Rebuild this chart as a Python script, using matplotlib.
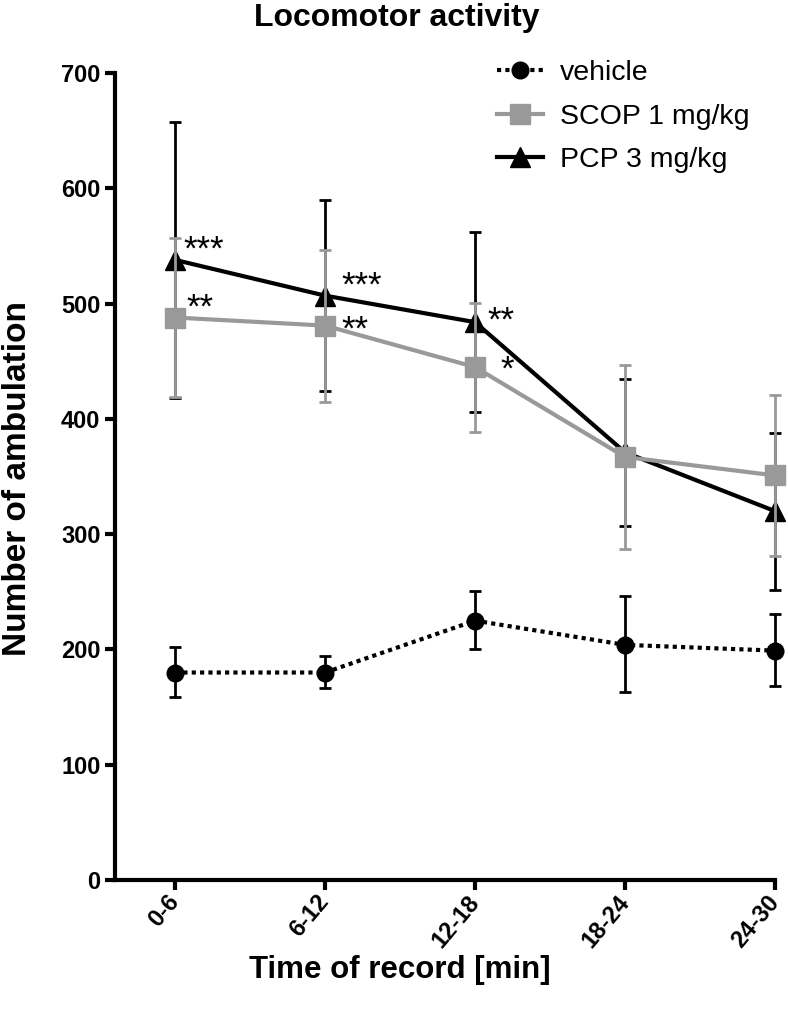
import matplotlib
matplotlib.use('Agg')
import matplotlib.pyplot as plt

plt.rcParams['font.family'] = ['Liberation Sans', 'DejaVu Sans']

times = ['0-6', '6-12', '12-18', '18-24', '24-30']
vehicle = [180, 180, 225, 204, 199]
vehicle_err_hi = [202, 194, 251, 246, 231]
vehicle_err_lo = [159, 167, 200, 163, 168]
scop = [488, 481, 445, 367, 351]
scop_sem = [69, 66, 56, 80, 70]
pcp = [538, 507, 484, 371, 320]
pcp_sem = [120, 83, 78, 64, 68]
star_idx = [0, 0, 1, 1, 2, 2]
star_txt = ['***', '**', '***', '**', '**', '*']
star_grp = ['pcp', 'scop', 'pcp', 'scop', 'pcp', 'scop']
# offsets of the asterisks from their marker (points)
star_off = [(6, 0), (8, 0), (12, 0), (12, -10), (9, -6), (18, -9)]

grey = '#999999'
x = list(range(len(times)))

fig = plt.figure(figsize=(7.88, 10.11), dpi=100)
ax = fig.add_axes([0.146, 0.1296, 0.8376, 0.798])

v_lo = [v - l for v, l in zip(vehicle, vehicle_err_lo)]
v_hi = [h - v for v, h in zip(vehicle, vehicle_err_hi)]
ev = ax.errorbar(x, vehicle, yerr=[v_lo, v_hi], color='black',
                 linestyle=(0, (1, 1.0)), linewidth=3, marker='o', markersize=12,
                 capsize=4, capthick=2, elinewidth=2, label='vehicle',
                 clip_on=False, zorder=3)
ep = ax.errorbar(x, pcp, yerr=pcp_sem, color='black', linestyle='-', linewidth=3,
                 marker='^', markersize=14, capsize=4, capthick=2, elinewidth=2,
                 label='PCP 3 mg/kg', clip_on=False, zorder=4)
es = ax.errorbar(x, scop, yerr=scop_sem, color=grey, linestyle='-', linewidth=3,
                 marker='s', markersize=14, capsize=4, capthick=2, elinewidth=2,
                 label='SCOP 1 mg/kg', clip_on=False, zorder=5)
for c in ev.lines[1] + ep.lines[1] + es.lines[1]:
    c.set_clip_on(False)
for c in ev.lines[2] + ep.lines[2] + es.lines[2]:
    c.set_clip_on(False)

for i, s, grp, off in zip(star_idx, star_txt, star_grp, star_off):
    yv = pcp[i] if grp == 'pcp' else scop[i]
    ax.annotate(s, (i, yv), xytext=off, textcoords='offset points',
                fontsize=25, ha='left', va='baseline')

ax.set_xlim(-0.4, 4)
ax.set_ylim(0, 700)
ax.set_yticks(range(0, 701, 100))
ax.set_xticks(x)
ax.set_xticklabels(times, rotation=50, ha='right', va='center',
                   rotation_mode='anchor', fontweight='bold', fontsize=17)
for lab in ax.get_yticklabels():
    lab.set_fontweight('bold')
    lab.set_fontsize(17)
ax.spines['top'].set_visible(False)
ax.spines['right'].set_visible(False)
ax.spines['left'].set_linewidth(3)
ax.spines['bottom'].set_linewidth(3)
ax.tick_params(width=3, length=7)
ax.tick_params(axis='x', pad=6)

ax.set_ylabel('Number of ambulation', fontsize=24, fontweight='bold', va='center')
ax.yaxis.set_label_coords(-0.148, 0.498)
ax.set_xlabel('Time of record [min]', fontsize=22.5, fontweight='bold', va='center')
ax.xaxis.set_label_coords(0.432, -0.1115)
fig.text(0.503, 1 - 18 / 1011, 'Locomotor activity', fontsize=23,
         fontweight='bold', ha='center', va='center')

hs = [ev.lines[0], es.lines[0], ep.lines[0]]
ls = ['vehicle', 'SCOP 1 mg/kg', 'PCP 3 mg/kg']
ax.legend(hs, ls, loc='upper left', bbox_to_anchor=(497 / 788, 1 - 60 / 1011),
          bbox_transform=fig.transFigure, frameon=False, fontsize=20.5,
          borderpad=0, borderaxespad=0, handlelength=1.6, handletextpad=0.6,
          labelspacing=0.62)

fig.savefig('out.png', dpi=100)
